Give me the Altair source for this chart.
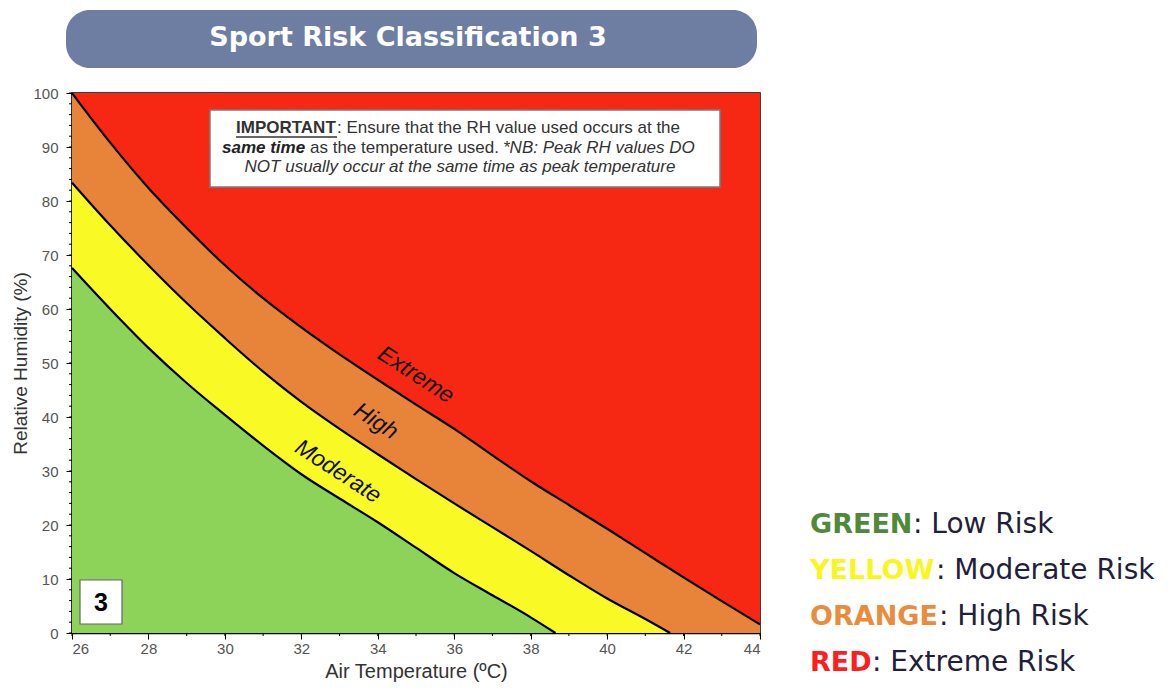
import altair as alt
import pandas as pd

# ---------------- data ----------------
temp_domain = [26, 44]
rh_domain = [0, 100]
temp_axis_ticks = [26, 28, 30, 32, 34, 36, 38, 40, 42, 44]
rh_axis_ticks = [0, 10, 20, 30, 40, 50, 60, 70, 80, 90, 100]
temp_minor_ticks = list(range(26, 45))
rh_minor_ticks = list(range(0, 101, 2))

extreme_temp = [26, 27, 28, 29, 30, 31, 32, 33, 34, 35, 36, 37, 38, 39, 40, 41, 42, 43, 44]
extreme_rh = [100, 90.8, 82.4, 75, 68.1, 62, 56.6, 51.6, 46.9, 42.3, 37.8, 32.9, 28.1, 23.7, 19.3, 14.8, 10.3, 5.9, 1.6]

high_temp = [26, 27, 28, 29, 30, 31, 32, 33, 34, 35, 36, 37, 38, 39, 40, 41, 41.65]
high_rh = [83.4, 75.5, 68.1, 61.1, 54.6, 48.4, 42.8, 37.8, 33.1, 28.5, 24, 19.6, 15.2, 10.7, 6.4, 2.6, 0]

moderate_temp = [26, 27, 28, 29, 30, 31, 32, 33, 34, 35, 36, 37, 38, 38.65]
moderate_rh = [67.6, 60, 52.8, 46.3, 40.4, 34.7, 29.4, 24.9, 20.5, 15.8, 11.1, 7, 2.9, 0]

zone_labels = ["Extreme", "High", "Moderate"]
zone_label_temp = [35.0, 33.95, 32.96]
zone_label_rh = [47.8, 39.2, 29.9]

legend_keys = ["GREEN", "YELLOW", "ORANGE", "RED"]
legend_desc = [": Low Risk", ": Moderate Risk", ": High Risk", ": Extreme Risk"]

title_text = "Sport Risk Classification 3"
panel_number = "3"
note_line1 = ["IMPORTANT", ": Ensure that the RH value used occurs at the"]
note_line2 = ["same time", "as the temperature used.", "*NB: Peak RH values DO"]
note_line3 = "NOT usually occur at the same time as peak temperature"

# ---------------- styles ----------------
W, H = 688, 540
RED = "#F62814"
ORANGE = "#E8833A"
YELLOW = "#F9F926"
GREEN = "#8DD35A"
legend_colors = ["#4F8A3A", "#F7F71E", "#EB8C3C", "#FF1E1E"]
AX_FONT = "Liberation Sans Narrow, Liberation Sans, Arial"
TXT_FONT = "Liberation Sans, Arial"
UI_FONT = "DejaVu Sans"

x_scale = alt.Scale(domain=temp_domain, nice=False, zero=False)
y_scale = alt.Scale(domain=rh_domain, nice=False, zero=False)

x_axis = alt.Axis(values=temp_axis_ticks, title="Air Temperature (ºC)", grid=False,
                  labelFont=AX_FONT, labelFontSize=15, labelColor="#555555", labelPadding=2,
                  tickColor="#000000", tickSize=6, tickWidth=1,
                  domainColor="#000000", domainWidth=1.5,
                  titleFont=TXT_FONT, titleFontSize=20, titleFontWeight="normal",
                  titleColor="#333333", titlePadding=5)
y_axis = alt.Axis(values=rh_axis_ticks, title="Relative Humidity (%)", grid=False,
                  labelFont=AX_FONT, labelFontSize=15, labelColor="#555555", labelPadding=8,
                  tickColor="#000000", tickSize=6, tickWidth=1,
                  domainColor="#000000", domainWidth=1.5,
                  titleFont=TXT_FONT, titleFontSize=19, titleFontWeight="normal",
                  titleColor="#333333", titlePadding=2)

X = alt.X("temp:Q", scale=x_scale, axis=x_axis)
Y = alt.Y("rh:Q", scale=y_scale, axis=y_axis, stack=None)

# ---------------- layers ----------------
bg_df = pd.DataFrame({"temp": [temp_domain[0]], "temp2": [temp_domain[1]],
                      "rh": [rh_domain[0]], "rh2": [rh_domain[1]]})
background = alt.Chart(bg_df).mark_rect(color=RED).encode(x=X, x2="temp2:Q", y=Y, y2="rh2:Q")

ext_df = pd.DataFrame({"temp": extreme_temp, "rh": extreme_rh})
high_df = pd.DataFrame({"temp": high_temp, "rh": high_rh})
mod_df = pd.DataFrame({"temp": moderate_temp, "rh": moderate_rh})


def area(df, color):
    return alt.Chart(df).mark_area(color=color, opacity=1, interpolate="monotone").encode(x=X, y=Y)


def line(df):
    return alt.Chart(df).mark_line(color="#000000", strokeWidth=2.2,
                                   interpolate="monotone").encode(x=X, y=Y)


layers = [background, area(ext_df, ORANGE), area(high_df, YELLOW), area(mod_df, GREEN),
          line(ext_df), line(high_df), line(mod_df)]

lab_df = pd.DataFrame({"label": zone_labels, "temp": zone_label_temp, "rh": zone_label_rh})
layers.append(alt.Chart(lab_df).mark_text(
    font=TXT_FONT, fontSize=23, fontStyle="italic", angle=33, color="#111111",
    align="center", baseline="middle").encode(x=X, y=Y, text="label:N"))

# minor ticks
layers.append(alt.Chart(pd.DataFrame({"temp": temp_minor_ticks})).mark_rule(
    color="#000000", strokeWidth=1).encode(x=X, y=alt.value(H), y2=alt.value(H + 3)))
layers.append(alt.Chart(pd.DataFrame({"rh": rh_minor_ticks})).mark_rule(
    color="#000000", strokeWidth=1).encode(y=Y, x=alt.value(0), x2=alt.value(-3)))

one = pd.DataFrame({"k": [0]})


def box(x1, x2, y1, y2, fill, stroke=None, sw=0, radius=0):
    kw = dict(fill=fill, cornerRadius=radius)
    if stroke:
        kw.update(stroke=stroke, strokeWidth=sw)
    return alt.Chart(one).mark_rect(**kw).encode(
        x=alt.value(x1), x2=alt.value(x2), y=alt.value(y1), y2=alt.value(y2))


def text(t, x, y, size, color, font=TXT_FONT, weight="normal", style="normal", align="left"):
    return alt.Chart(one).mark_text(
        text=t, font=font, fontSize=size, fontWeight=weight, fontStyle=style,
        color=color, align=align, baseline="middle").encode(x=alt.value(x), y=alt.value(y))


# important note box
layers.append(box(138, 648, 17, 94, "#FFFFFF", "#7A7A88", 1.5))
NOTE_C = "#333333"
layers.append(text(note_line1[0], 164, 35, 17, NOTE_C, weight="bold"))
layers.append(text(note_line1[1], 265, 35, 17, NOTE_C))
layers.append(alt.Chart(one).mark_rule(color=NOTE_C, strokeWidth=1.3).encode(
    x=alt.value(164), x2=alt.value(265), y=alt.value(44)))
layers.append(text(note_line2[0], 150, 54.5, 17, "#222222", weight="bold", style="italic"))
layers.append(text(note_line2[1], 238, 54.5, 17, NOTE_C))
layers.append(text(note_line2[2], 431, 54.5, 17, NOTE_C, style="italic"))
layers.append(text(note_line3, 388, 74, 17, NOTE_C, style="italic", align="center"))

# panel number box
layers.append(box(8, 50, 487, 531, "#FFFFFF", "#666666", 1.2))
layers.append(text(panel_number, 29, 510, 25, "#000000", weight="bold", align="center"))

# title banner
layers.append(box(-6, 685, -83, -25, "#6D7EA2", radius=24))
layers.append(text(title_text, 336, -55, 27, "#FFFFFF", font=UI_FONT, weight="bold", align="center"))

# legend
key_y = [432, 478, 524, 570]
desc_x = [841, 864, 867, 800]
for i in range(4):
    layers.append(text(legend_keys[i], 738, key_y[i], 27, legend_colors[i], font=UI_FONT, weight="bold"))
    layers.append(text(legend_desc[i], desc_x[i], key_y[i], 28, "#231F3A", font=UI_FONT))

chart = alt.layer(*layers).properties(
    width=W, height=H,
    autosize=alt.AutoSizeParams(type="none"),
    padding={"left": 64, "top": 85, "right": 403, "bottom": 50},
    background="#FFFFFF",
).configure_view(stroke="#000000", strokeWidth=1.5)

chart.save("out.html", embed_options={"renderer": "svg", "actions": False})
